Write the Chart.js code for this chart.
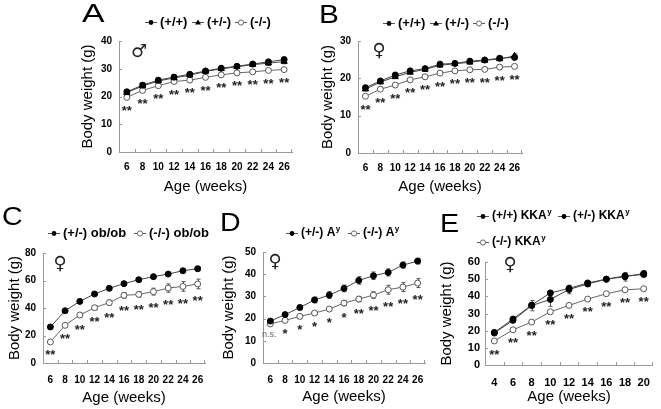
<!DOCTYPE html>
<html><head><meta charset="utf-8">
<script src="https://cdn.jsdelivr.net/npm/chart.js@4"></script>
<style>
body{margin:0;background:#fff;width:661px;height:409px;position:relative;overflow:hidden}
canvas{position:absolute}
</style>
</head><body>
<canvas id="cA"></canvas><canvas id="cB"></canvas><canvas id="cC"></canvas><canvas id="cD"></canvas><canvas id="cE"></canvas>
<script>
// ---------- data ----------
const ages = ["6","8","10","12","14","16","18","20","22","24","26"];
const agesE = ["4","6","8","10","12","14","16","18","20"];

const seriesAB = ["(+/+)", "(+/-)", "(-/-)"];
const seriesC = ["(+/-) ob/ob", "(-/-) ob/ob"];
const seriesD = ["(+/-) A", "(-/-) A"];
const seriesE = ["(+/+) KKA", "(+/-) KKA", "(-/-) KKA"];

const A_wt  = [21.7, 24.1, 25.9, 27.0, 28.0, 29.2, 30.2, 30.9, 31.7, 32.5, 33.3];
const A_het = [21.4, 23.8, 25.6, 26.7, 27.7, 29.0, 30.0, 30.7, 31.5, 32.0, 32.6];
const A_ko  = [19.7, 22.2, 23.9, 25.4, 25.9, 26.9, 27.8, 28.5, 28.9, 29.4, 29.7];
const A_wtErr  = [0.4, 0.5, 0.5, 0.6, 0.6, 0.5, 0.5, 0.5, 0.6, 0.7, 0.8];
const A_hetErr = [0.4, 0.5, 0.5, 0.6, 0.7, 0.5, 0.5, 0.6, 0.6, 0.8, 0.8];
const A_koErr  = [0.3, 0.3, 0.3, 0.3, 0.3, 0.3, 0.3, 0.3, 0.3, 0.3, 0.3];
const A_sig = ["**","**","**","**","**","**","**","**","**","**","**"];

const B_wt  = [17.5, 19.3, 20.9, 22.0, 22.6, 23.8, 24.0, 24.6, 24.9, 25.4, 25.6];
const B_het = [17.1, 19.0, 20.4, 21.6, 22.4, 23.5, 23.9, 24.3, 24.8, 25.2, 26.0];
const B_ko  = [15.2, 17.1, 18.2, 19.6, 20.4, 21.4, 22.0, 22.3, 22.4, 23.0, 23.2];
const B_wtErr  = [0.4, 0.4, 0.4, 0.4, 0.4, 0.4, 0.4, 0.4, 0.4, 0.4, 0.5];
const B_hetErr = [0.4, 0.4, 0.4, 0.4, 0.4, 0.4, 0.4, 0.4, 0.4, 0.4, 0.5];
const B_koErr  = [0.3, 0.3, 0.3, 0.3, 0.3, 0.3, 0.3, 0.3, 0.3, 0.3, 0.3];
const B_sig = ["**","**","**","**","**","**","**","**","**","**","**"];

const C_het = [26.2, 38.0, 44.8, 50.2, 54.3, 57.7, 60.6, 62.8, 64.7, 67.1, 68.6];
const C_ko  = [15.3, 27.4, 34.9, 40.2, 43.9, 49.2, 49.9, 51.9, 54.5, 55.7, 57.5];
const C_hetErr = [0.6, 0.8, 0.8, 0.8, 0.9, 1.0, 1.0, 1.0, 1.2, 1.3, 1.5];
const C_koErr  = [0.6, 1.2, 1.5, 1.5, 1.8, 2.0, 2.0, 2.5, 3.0, 3.5, 3.5];
const C_sig = ["**","**","**","**","**","**","**","**","**","**","**"];

const D_het = [18.9, 21.8, 25.0, 28.4, 30.6, 33.6, 37.2, 39.3, 40.8, 44.1, 45.9];
const D_ko  = [17.6, 19.2, 21.0, 22.5, 24.3, 27.0, 28.8, 30.6, 33.0, 34.2, 36.0];
const D_hetErr = [0.5, 0.7, 1.0, 1.3, 1.5, 1.5, 1.7, 1.7, 1.6, 1.4, 1.3];
const D_koErr  = [0.4, 0.5, 0.6, 0.7, 0.8, 1.2, 1.2, 1.5, 2.0, 2.0, 2.0];
const D_sig = ["n.s.","*","*","*","*","*","**","**","**","**","**"];

const E_wt  = [19.0, 26.8, 34.9, 42.0, 44.6, 47.8, 50.0, 51.9, 52.7];
const E_het = [18.6, 26.0, 34.6, 38.2, 44.0, 47.2, 50.0, 51.4, 53.3];
const E_ko  = [14.0, 20.5, 25.0, 31.0, 34.7, 38.4, 41.5, 43.8, 44.4];
const E_wtErr  = [0.6, 1.0, 1.2, 1.0, 1.2, 1.0, 1.0, 1.2, 1.0];
const E_hetErr = [0.6, 1.0, 3.0, 4.0, 2.5, 1.5, 1.0, 2.5, 1.5];
const E_koErr  = [0.8, 0.6, 0.6, 0.6, 0.5, 0.5, 0.5, 0.5, 0.5];
const E_sig = ["**","**","**","**","**","**","**","**","**"];

// ---------- styling ----------
const FONT = '"Liberation Sans", Arial, sans-serif';
const AXIS = '#9a9a9a';
const STYLES = {
  fill: {pointStyle:'circle', pointRadius:3, pointBackgroundColor:'#000', pointBorderColor:'#000', borderColor:'#444'},
  tri:  {pointStyle:'triangle', pointRadius:3.6, pointBackgroundColor:'#000', pointBorderColor:'#000', borderColor:'#444'},
  open: {pointStyle:'circle', pointRadius:3, pointBackgroundColor:'#fff', pointBorderColor:'#555', borderColor:'#666'}
};

function drawMarker(ctx, style, x, y) {
  ctx.save();
  ctx.lineWidth = 1;
  if (style === 'tri') {
    ctx.fillStyle = '#000';
    ctx.beginPath(); ctx.moveTo(x, y - 3); ctx.lineTo(x + 3, y + 2); ctx.lineTo(x - 3, y + 2); ctx.closePath(); ctx.fill();
  } else if (style === 'open') {
    ctx.fillStyle = '#fff'; ctx.strokeStyle = '#666';
    ctx.beginPath(); ctx.arc(x, y, 2.6, 0, Math.PI * 2); ctx.fill(); ctx.stroke();
  } else {
    ctx.fillStyle = '#000';
    ctx.beginPath(); ctx.arc(x, y, 2.4, 0, Math.PI * 2); ctx.fill();
  }
  ctx.restore();
}

const decor = {
  id: 'decor',
  beforeDatasetsDraw(chart, args, o) {
    const ctx = chart.ctx, ys = chart.scales.y;
    chart.data.datasets.forEach((ds, di) => {
      if (!ds.err) return;
      const meta = chart.getDatasetMeta(di);
      ctx.save(); ctx.strokeStyle = '#555'; ctx.lineWidth = 1;
      meta.data.forEach((pt, i) => {
        const e = ds.err[i]; if (!e) return;
        const x = Math.round(pt.x) + 0.5;
        const y1 = ys.getPixelForValue(ds.data[i] + e), y2 = ys.getPixelForValue(ds.data[i] - e);
        ctx.beginPath();
        ctx.moveTo(x, y1); ctx.lineTo(x, y2);
        ctx.moveTo(x - 2, y1); ctx.lineTo(x + 2, y1);
        ctx.moveTo(x - 2, y2); ctx.lineTo(x + 2, y2);
        ctx.stroke();
      });
      ctx.restore();
    });
    // inner tick marks
    const a = chart.chartArea, xs = chart.scales.x;
    ctx.save(); ctx.strokeStyle = AXIS; ctx.lineWidth = 1;
    ctx.beginPath();
    ys.ticks.forEach(t => {
      const y = Math.round(ys.getPixelForValue(t.value)) + 0.5;
      ctx.moveTo(a.left, y); ctx.lineTo(a.left + 3, y);
    });
    const n = xs.ticks.length;
    for (let i = 1; i < n; i++) {
      const x = Math.round((xs.getPixelForValue(i - 1) + xs.getPixelForValue(i)) / 2) + 0.5;
      ctx.moveTo(x, a.bottom); ctx.lineTo(x, a.bottom - 3);
    }
    const xr = Math.round(a.right) - 0.5;
    ctx.moveTo(xr, a.bottom); ctx.lineTo(xr, a.bottom - 3);
    ctx.stroke();
    ctx.restore();
  },
  afterDraw(chart, args, o) {
    const ctx = chart.ctx, ys = chart.scales.y, xs = chart.scales.x;
    const ox = o.ox, oy = o.oy;
    ctx.save();
    // panel letter
    ctx.fillStyle = '#000';
    ctx.font = '26px ' + FONT;
    ctx.textBaseline = 'alphabetic'; ctx.textAlign = 'left';
    ctx.save();
    ctx.translate(o.letter.x - ox, o.letter.y - oy);
    ctx.scale(o.letter.sx, 1);
    ctx.fillText(o.letter.t, 0, 0);
    ctx.restore();
    // gender symbol
    ctx.font = o.gender.size + 'px "DejaVu Sans", sans-serif';
    ctx.textAlign = 'center'; ctx.textBaseline = 'middle';
    ctx.fillStyle = '#222';
    ctx.fillText(o.gender.t, o.gender.x - ox, o.gender.y - oy);
    // legend
    o.legend.forEach(it => {
      const ds = chart.data.datasets[it.ds];
      const x = it.x - ox, y = it.y - oy;
      ctx.strokeStyle = '#555'; ctx.lineWidth = 1;
      ctx.beginPath(); ctx.moveTo(x, Math.round(y) + 0.5); ctx.lineTo(x + 12, Math.round(y) + 0.5); ctx.stroke();
      drawMarker(ctx, ds.mstyle, x + 6, Math.round(y) + 0.5);
      ctx.fillStyle = '#000';
      ctx.font = 'bold ' + o.legendSize + 'px ' + FONT;
      ctx.textAlign = 'left'; ctx.textBaseline = 'middle';
      ctx.fillText(ds.label, x + 15, y);
      if (ds.sup) {
        const w = ctx.measureText(ds.label).width;
        ctx.font = 'bold ' + Math.round(o.legendSize * 0.7) + 'px ' + FONT;
        ctx.fillText(ds.sup, x + 15 + w + 0.5, y - 4);
      }
    });
    // significance marks
    const ref = chart.data.datasets[o.stars.ref];
    o.stars.labels.forEach((s, i) => {
      const x = xs.getPixelForValue(i);
      const target = ys.getPixelForValue(ref.data[i] - (ref.err ? ref.err[i] : 0)) + 9;
      ctx.textAlign = 'center'; ctx.textBaseline = 'alphabetic';
      if (s.indexOf('*') >= 0) {
        ctx.fillStyle = '#222';
        ctx.font = 'bold 13px ' + FONT;
        ctx.fillText(s, x, target + 7.5);
      } else {
        ctx.fillStyle = '#666';
        ctx.font = '9px ' + FONT;
        ctx.fillText(s, x - 1, target + 3);
      }
    });
    ctx.restore();
  }
};

function ds(label, data, err, mstyle, sup) {
  const st = STYLES[mstyle];
  return Object.assign({label, data, err, mstyle, sup, borderWidth:1, pointBorderWidth:1, fill:false, tension:0}, st);
}

const panels = [
  {id:'cA', rect:[0,0,310,200], area:[119,41,292,152], yW:40, xH:44, tickPad:9, ymax:40, step:10, labels:ages, tfs:10, ypad:7,
   datasets:[ds(seriesAB[0],A_wt,A_wtErr,'fill'), ds(seriesAB[1],A_het,A_hetErr,'tri'), ds(seriesAB[2],A_ko,A_koErr,'open')],
   letter:{t:'A',x:82,y:22,sx:1.3}, gender:{t:'\u2642',x:139,y:52,size:18},
   legend:[{ds:0,x:145,y:22},{ds:1,x:192,y:22},{ds:2,x:235,y:22}], legendSize:13,
   stars:{labels:A_sig, ref:2}},
  {id:'cB', rect:[310,0,351,200], area:[358,41,522,153], yW:39, xH:43, tickPad:9, ymax:30, step:10, labels:ages, tfs:10, ypad:7,
   datasets:[ds(seriesAB[0],B_wt,B_wtErr,'fill'), ds(seriesAB[1],B_het,B_hetErr,'tri'), ds(seriesAB[2],B_ko,B_koErr,'open')],
   letter:{t:'B',x:319,y:23,sx:1.15}, gender:{t:'\u2640',x:379,y:51,size:18},
   legend:[{ds:0,x:383,y:23},{ds:1,x:430,y:23},{ds:2,x:473,y:23}], legendSize:13,
   stars:{labels:B_sig, ref:2}},
  {id:'cC', rect:[0,200,218,209], area:[43,253,205,363], yW:37, xH:44, tickPad:11, ymax:80, step:20, labels:ages, tfs:10, ypad:7,
   datasets:[ds(seriesC[0],C_het,C_hetErr,'fill'), ds(seriesC[1],C_ko,C_koErr,'open')],
   letter:{t:'C',x:2,y:225,sx:1.1}, gender:{t:'\u2640',x:60,y:264,size:18},
   legend:[{ds:0,x:48,y:233},{ds:1,x:134,y:233}], legendSize:13,
   stars:{labels:C_sig, ref:1}},
  {id:'cD', rect:[218,200,220,209], area:[263,252,425,363], yW:43, xH:43, tickPad:11, ymax:50, step:10, labels:ages, tfs:10, ypad:7,
   datasets:[ds(seriesD[0],D_het,D_hetErr,'fill','y'), ds(seriesD[1],D_ko,D_koErr,'open','y')],
   letter:{t:'D',x:220,y:231,sx:1.1}, gender:{t:'\u2640',x:275,y:262,size:18},
   legend:[{ds:0,x:286,y:233},{ds:1,x:348,y:233}], legendSize:12,
   stars:{labels:D_sig, ref:1}},
  {id:'cE', rect:[438,200,223,209], area:[485,262,657,365], yW:47, xH:41, tickPad:11, ymax:60, step:10, labels:agesE, tfs:11, ypad:5,
   datasets:[ds(seriesE[0],E_wt,E_wtErr,'fill','y'), ds(seriesE[1],E_het,E_hetErr,'fill','y'), ds(seriesE[2],E_ko,E_koErr,'open','y')],
   letter:{t:'E',x:440,y:232,sx:1.1}, gender:{t:'\u2640',x:510,y:265,size:18},
   legend:[{ds:0,x:477,y:216},{ds:1,x:558,y:216},{ds:2,x:477,y:242}], legendSize:12,
   stars:{labels:E_sig, ref:2}}
];

panels.forEach(p => {
  const [rx, ry, rw, rh] = p.rect;
  const [al, at, ar, ab] = p.area;
  const cv = document.getElementById(p.id);
  cv.width = rw; cv.height = rh;
  cv.style.left = rx + 'px'; cv.style.top = ry + 'px';
  cv.style.width = rw + 'px'; cv.style.height = rh + 'px';
  new Chart(cv, {
    type: 'line',
    data: {labels: p.labels, datasets: p.datasets},
    plugins: [decor],
    options: {
      responsive: false, animation: false, devicePixelRatio: 1,
      layout: {autoPadding: false, padding: {left: al - p.yW - rx, top: at - ry, right: rx + rw - ar, bottom: ry + rh - (ab + p.xH)}},
      plugins: {
        legend: {display: false}, tooltip: {enabled: false},
        decor: {ox: rx, oy: ry, letter: p.letter, gender: p.gender, legend: p.legend, legendSize: p.legendSize, stars: p.stars}
      },
      scales: {
        x: {
          type: 'category', offset: true,
          grid: {display: false, drawTicks: false},
          border: {display: true, color: AXIS, width: 1},
          ticks: {color: '#000', font: {family: FONT, weight: 'bold', size: p.tfs}, padding: p.tickPad, maxRotation: 0, autoSkip: false},
          title: {display: true, text: 'Age (weeks)', color: '#000', font: {family: FONT, size: 15}, padding: 0},
          afterFit(s) { s.height = p.xH; }
        },
        y: {
          min: 0, max: p.ymax,
          grid: {display: false, drawTicks: false},
          border: {display: true, color: AXIS, width: 1},
          ticks: {stepSize: p.step, color: '#000', font: {family: FONT, weight: 'bold', size: p.tfs}, padding: p.ypad},
          title: {display: true, text: 'Body weight (g)', color: '#000', font: {family: FONT, size: 15}, padding: 0},
          afterFit(s) { s.width = p.yW; }
        }
      }
    }
  });
});
</script>
</body></html>
